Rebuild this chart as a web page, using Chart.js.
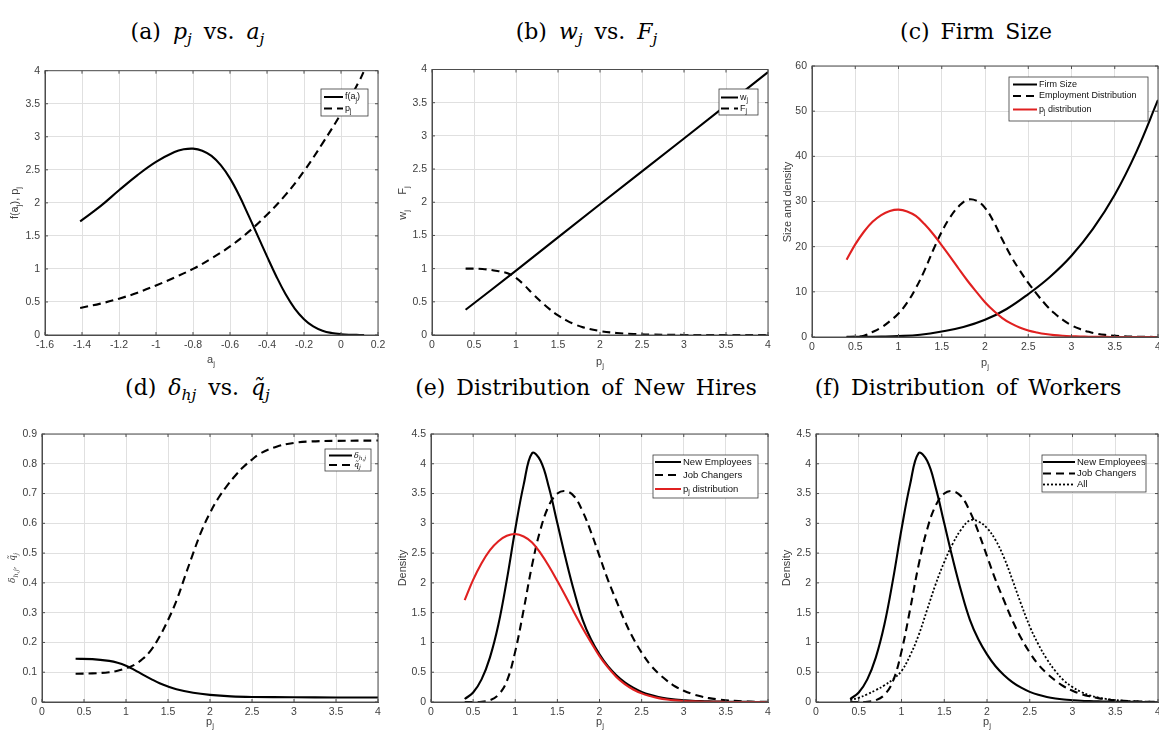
<!DOCTYPE html>
<html>
<head>
<meta charset="utf-8">
<title>Model figures</title>
<script src="https://cdn.jsdelivr.net/npm/chart.js@4.4.1/dist/chart.umd.min.js"></script>
<style>
  html, body { margin: 0; padding: 0; background: #fff; }
  #page { position: relative; width: 1159px; height: 737px; overflow: hidden; }
  canvas { position: absolute; }
  .cap { position: absolute; font-family: 'DejaVu Serif', serif; font-size: 22px; line-height: 22px; word-spacing: 4px; color: #000; white-space: nowrap; transform: translateX(-50%); }
  .cap i { margin: 0 1px; }
  .cap sub { font-size: 70%; vertical-align: -0.3em; line-height: 0; }
</style>
</head>
<body>
<div id="page">
  <div class="cap" style="left:198px;top:21px">(a) <i>p<sub>j</sub></i> vs. <i>a<sub>j</sub></i></div>
  <div class="cap" style="left:587px;top:21px">(b) <i>w<sub>j</sub></i> vs. <i>F<sub>j</sub></i></div>
  <div class="cap" style="left:976px;top:21px">(c) Firm Size</div>
  <div class="cap" style="left:198px;top:377px">(d) <i>δ<sub>hj</sub></i> vs. <i>q̃<sub>j</sub></i></div>
  <div class="cap" style="left:586px;top:377px">(e) Distribution of New Hires</div>
  <div class="cap" style="left:968px;top:377px">(f) Distribution of Workers</div>
  <canvas id="pa"></canvas>
  <canvas id="pb"></canvas>
  <canvas id="pc"></canvas>
  <canvas id="pd"></canvas>
  <canvas id="pe"></canvas>
  <canvas id="pf"></canvas>
</div>
<script>
// ---------- data ----------
// tick values
const aTickX = [-1.6, -1.4, -1.2, -1, -0.8, -0.6, -0.4, -0.2, 0, 0.2];
const tick4 = [0, 0.5, 1, 1.5, 2, 2.5, 3, 3.5, 4];
const cTickY = [0, 10, 20, 30, 40, 50, 60];
const dTickY = [0, 0.1, 0.2, 0.3, 0.4, 0.5, 0.6, 0.7, 0.8, 0.9];
const eTickY = [0, 0.5, 1, 1.5, 2, 2.5, 3, 3.5, 4, 4.5];

// (a) f(a_j) and p_j against a_j
const faX = [-1.41, -1.3, -1.2, -1.1, -1.0, -0.9, -0.85, -0.8, -0.75, -0.7, -0.65, -0.6, -0.55, -0.5, -0.45, -0.4, -0.35, -0.3, -0.25, -0.2, -0.15, -0.1, -0.05, 0, 0.05, 0.1, 0.125];
const faY = [1.72, 1.95, 2.19, 2.42, 2.62, 2.77, 2.81, 2.82, 2.79, 2.71, 2.57, 2.37, 2.11, 1.81, 1.50, 1.19, 0.89, 0.62, 0.40, 0.24, 0.13, 0.065, 0.03, 0.012, 0.004, 0.001, 0];
const paX = [-1.41, -1.3, -1.2, -1.1, -1.0, -0.9, -0.8, -0.7, -0.6, -0.5, -0.4, -0.3, -0.2, -0.1, 0, 0.1, 0.125];
const paY = [0.41, 0.475, 0.55, 0.64, 0.75, 0.87, 1.0, 1.16, 1.34, 1.56, 1.82, 2.12, 2.48, 2.9, 3.35, 3.85, 4.0];

// (b) w_j and F_j against p_j
const wX = [0.4, 1, 2, 3, 4];
const wY = [0.38, 0.97, 1.97, 2.96, 3.96];
const fX = [0.4, 0.6, 0.8, 0.9, 1.0, 1.1, 1.2, 1.3, 1.4, 1.5, 1.6, 1.7, 1.8, 2.0, 2.2, 2.4, 2.6, 3.0, 3.5, 4.0];
const fY = [1.0, 0.995, 0.96, 0.93, 0.86, 0.75, 0.62, 0.5, 0.39, 0.295, 0.22, 0.16, 0.115, 0.06, 0.03, 0.015, 0.006, 0.001, 0, 0];

// common p_j grid for the density curves
const pj = [0.4, 0.5, 0.6, 0.7, 0.8, 0.9, 1.0, 1.1, 1.2, 1.3, 1.4, 1.5, 1.6, 1.7, 1.8, 1.9, 2.0, 2.1, 2.2, 2.3, 2.4, 2.5, 2.6, 2.7, 2.8, 2.9, 3.0, 3.1, 3.2, 3.3, 3.4, 3.5, 3.6, 3.7, 3.8, 3.9, 4.0];

// (c) firm size, employment distribution, p_j distribution
const sizeX = [0.4, 0.6, 0.8, 1.0, 1.25, 1.5, 1.75, 2.0, 2.25, 2.5, 2.75, 3.0, 3.25, 3.5, 3.75, 4.0];
const sizeY = [0.02, 0.05, 0.1, 0.2, 0.5, 1.2, 2.2, 3.8, 6.2, 9.5, 13.3, 18, 24, 31.5, 41, 52.5];
const empY = [0, 0.05, 0.3, 1.1, 2.1, 3.5, 5.2, 7.6, 10.8, 14.7, 19.2, 23.3, 26.6, 29.0, 30.4, 30.2, 28.6, 25.5, 21.6, 17.9, 14.8, 12.0, 9.5, 7.2, 5.3, 3.8, 2.6, 1.75, 1.15, 0.72, 0.45, 0.27, 0.15, 0.08, 0.04, 0.02, 0.01];
const pdistC = [17.1, 20.5, 23.3, 25.5, 27.0, 27.9, 28.2, 27.8, 26.8, 25.0, 22.8, 20.3, 17.7, 15.0, 12.4, 10.0, 7.7, 5.8, 4.2, 3.0, 2.1, 1.45, 1.0, 0.65, 0.42, 0.27, 0.17, 0.1, 0.06, 0.035, 0.02, 0.01, 0.005, 0.003, 0.001, 0, 0];

// (d) delta_hj and q~_j
const dlX = [0.4, 0.6, 0.8, 0.9, 1.0, 1.1, 1.2, 1.3, 1.4, 1.5, 1.6, 1.8, 2.0, 2.25, 2.5, 3.0, 3.5, 4.0];
const dlY = [0.145, 0.144, 0.138, 0.132, 0.122, 0.108, 0.092, 0.077, 0.063, 0.052, 0.043, 0.031, 0.024, 0.019, 0.017, 0.016, 0.015, 0.015];
const qX = [0.4, 0.6, 0.8, 0.9, 1.0, 1.1, 1.2, 1.3, 1.4, 1.5, 1.6, 1.7, 1.8, 1.9, 2.0, 2.1, 2.2, 2.3, 2.4, 2.5, 2.6, 2.8, 3.0, 3.2, 3.5, 4.0];
const qY = [0.095, 0.096, 0.1, 0.105, 0.113, 0.125, 0.145, 0.175, 0.22, 0.275, 0.34, 0.42, 0.5, 0.575, 0.635, 0.685, 0.725, 0.76, 0.79, 0.814, 0.835, 0.858, 0.87, 0.875, 0.877, 0.878];

// (e), (f) densities on the pj grid
const newEmpY = [0.05, 0.16, 0.38, 0.75, 1.3, 2.05, 2.9, 3.65, 4.18, 4.05, 3.6, 3.0, 2.4, 1.85, 1.38, 1.05, 0.8, 0.6, 0.45, 0.33, 0.24, 0.17, 0.12, 0.085, 0.06, 0.042, 0.03, 0.02, 0.014, 0.01, 0.007, 0.005, 0.003, 0.002, 0.001, 0, 0];
const jobChY = [0, 0, 0.005, 0.03, 0.12, 0.35, 0.85, 1.55, 2.3, 2.9, 3.3, 3.5, 3.54, 3.45, 3.2, 2.85, 2.45, 2.05, 1.7, 1.36, 1.07, 0.83, 0.63, 0.48, 0.36, 0.26, 0.19, 0.135, 0.095, 0.065, 0.045, 0.03, 0.02, 0.012, 0.007, 0.004, 0.002];
const pdistE = [1.71, 2.05, 2.33, 2.55, 2.70, 2.79, 2.82, 2.78, 2.68, 2.50, 2.28, 2.03, 1.77, 1.50, 1.24, 1.00, 0.77, 0.58, 0.42, 0.30, 0.21, 0.145, 0.10, 0.065, 0.042, 0.027, 0.017, 0.01, 0.006, 0.0035, 0.002, 0.001, 0.0005, 0, 0, 0, 0];
const allY = [0.03, 0.07, 0.13, 0.2, 0.28, 0.38, 0.52, 0.78, 1.12, 1.55, 1.98, 2.35, 2.66, 2.9, 3.05, 3.03, 2.92, 2.72, 2.42, 2.04, 1.64, 1.27, 0.97, 0.72, 0.52, 0.36, 0.25, 0.17, 0.11, 0.075, 0.05, 0.032, 0.02, 0.012, 0.007, 0.004, 0.002];

// ---------- drawing ----------
const SANS = "'Liberation Sans', Arial, Helvetica, sans-serif";
const SERIF = "'DejaVu Serif', serif";
const RED = '#e02020';
const DASH = [8, 5];
const DOT = [2, 2];

function line(xs, ys, color, dash, order) {
  return {
    data: xs.map((x, i) => ({ x: x, y: ys[i] })),
    borderColor: color || '#000',
    borderDash: dash || [],
    borderWidth: dash === DOT ? 1.8 : 2.1,
    showLine: true,
    pointRadius: 0,
    fill: false,
    tension: 0.4,
    order: order || 0
  };
}

// segs: [text, kind]; kind contains 's' for subscript, 'i' for italic
function drawRich(ctx, segs, x, y, size, family, align) {
  let w = 0;
  const parts = segs.map(function (s) {
    const sub = s[1].indexOf('s') >= 0, it = s[1].indexOf('i') >= 0;
    const sz = sub ? size * 0.72 : size;
    const f = (it ? 'italic ' : '') + sz + 'px ' + family;
    ctx.font = f;
    const pw = ctx.measureText(s[0]).width;
    w += pw;
    return { t: s[0], f: f, pw: pw, dy: sub ? size * 0.32 : 0 };
  });
  let px = align === 'center' ? x - w / 2 : x;
  ctx.textAlign = 'left';
  ctx.textBaseline = 'middle';
  parts.forEach(function (p) { ctx.font = p.f; ctx.fillText(p.t, px, y + p.dy); px += p.pw; });
}

function decoPlugin(box, d, xTicks, yTicks) {
  return {
    id: 'deco',
    afterDraw(chart) {
      const ctx = chart.ctx, a = chart.chartArea;
      const xs = chart.scales.x, ys = chart.scales.y;
      ctx.save();
      // axes box with inward ticks
      ctx.strokeStyle = '#4d4d4d';
      ctx.lineWidth = 1;
      ctx.strokeRect(a.left, a.top, a.right - a.left, a.bottom - a.top);
      ctx.beginPath();
      xTicks.forEach(function (v) {
        const px = xs.getPixelForValue(v);
        ctx.moveTo(px, a.bottom); ctx.lineTo(px, a.bottom - 3);
        ctx.moveTo(px, a.top); ctx.lineTo(px, a.top + 3);
      });
      yTicks.forEach(function (v) {
        const py = ys.getPixelForValue(v);
        ctx.moveTo(a.left, py); ctx.lineTo(a.left + 3, py);
        ctx.moveTo(a.right, py); ctx.lineTo(a.right - 3, py);
      });
      ctx.stroke();

      // axis titles
      ctx.fillStyle = '#404040';
      drawRich(ctx, d.xTitle, d.xt[0] - box.x, d.xt[1] - box.y, 11, SANS, 'center');
      ctx.save();
      ctx.translate(d.yt[0] - box.x, d.yt[1] - box.y);
      ctx.rotate(-Math.PI / 2);
      drawRich(ctx, d.yTitle, 0, 0, d.ySize || 11, d.yFont || SANS, 'center');
      ctx.restore();

      // legend
      const L = d.legend, lx = L.x - box.x, ly = L.y - box.y;
      ctx.fillStyle = '#fff';
      ctx.fillRect(lx, ly, L.w, L.h);
      ctx.strokeStyle = '#3a3a3a';
      ctx.lineWidth = 0.8;
      ctx.strokeRect(lx, ly, L.w, L.h);
      L.items.forEach(function (it) {
        const y = it.y - box.y;
        ctx.strokeStyle = it.color || '#000';
        ctx.lineWidth = it.dash === DOT ? 1.8 : 2;
        ctx.setLineDash(it.dash || []);
        ctx.beginPath();
        ctx.moveTo(lx + L.l0, y); ctx.lineTo(lx + L.l1, y);
        ctx.stroke();
        ctx.setLineDash([]);
        ctx.fillStyle = '#111';
        drawRich(ctx, it.segs, lx + L.tx, y, L.size, L.font || SANS, 'left');
      });
      ctx.restore();
    }
  };
}

function axis(ticks, dir, size) {
  return {
    type: 'linear',
    min: ticks[0],
    max: ticks[ticks.length - 1],
    afterBuildTicks: function (s) { s.ticks = ticks.map(function (v) { return { value: v }; }); },
    afterFit: function (s) {
      if (dir === 'x') s.height = size; else s.width = size;
      s.paddingLeft = s.paddingRight = s.paddingTop = s.paddingBottom = 0;
    },
    grid: { color: '#e0e0e0', lineWidth: 1, drawTicks: false },
    border: { display: true, color: '#4d4d4d', width: 1 },
    ticks: {
      color: '#404040',
      font: { family: SANS, size: 10.5 },
      padding: dir === 'x' ? 4 : 5,
      maxRotation: 0,
      autoSkip: false,
      callback: function (v) { return String(v); }
    }
  };
}

function panel(id, box, area, xTicks, yTicks, datasets, deco) {
  const cv = document.getElementById(id);
  cv.width = box.w; cv.height = box.h;
  cv.style.left = box.x + 'px'; cv.style.top = box.y + 'px';
  new Chart(cv, {
    type: 'scatter',
    data: { datasets: datasets },
    options: {
      responsive: false,
      animation: false,
      events: [],
      layout: { padding: { left: 0, top: area.t - box.y, right: box.x + box.w - area.r, bottom: 0 } },
      plugins: { legend: { display: false }, tooltip: { enabled: false } },
      scales: {
        x: axis(xTicks, 'x', box.y + box.h - area.b),
        y: axis(yTicks, 'y', area.l - box.x)
      }
    },
    plugins: [decoPlugin(box, deco, xTicks, yTicks)]
  });
}

const pSub = [['p', ''], ['j', 's']];

// (a)
panel('pa', { x: 0, y: 55, w: 390, h: 325 }, { l: 45, t: 70.7, r: 378, b: 335 }, aTickX, tick4,
  [line(faX, faY), line(paX, paY, '#000', DASH)],
  {
    xTitle: [['a', ''], ['j', 's']], xt: [211, 360],
    yTitle: [['f(a', ''], ['j', 's'], ['), p', ''], ['j', 's']], yt: [15, 203],
    legend: { x: 321, y: 89, w: 47, h: 27, l0: 3, l1: 22, tx: 24, size: 9,
      items: [{ segs: [['f(a', ''], ['j', 's'], [')', '']], y: 97 }, { segs: pSub, dash: DASH, y: 108.5 }] }
  });

// (b)
panel('pb', { x: 390, y: 55, w: 390, h: 325 }, { l: 432, t: 69.5, r: 768, b: 335 }, tick4, tick4,
  [line(wX, wY), line(fX, fY, '#000', DASH)],
  {
    xTitle: pSub, xt: [600, 362],
    yTitle: [['w', ''], ['j', 's'], ['     F', ''], ['j', 's']], yt: [403, 203],
    legend: { x: 719, y: 89, w: 39, h: 26, l0: 2, l1: 19, tx: 21, size: 9,
      items: [{ segs: [['w', ''], ['j', 's']], y: 97.5 }, { segs: [['F', ''], ['j', 's']], dash: DASH, y: 108.5 }] }
  });

// (c)
panel('pc', { x: 775, y: 55, w: 384, h: 325 }, { l: 812, t: 66, r: 1158, b: 337 }, tick4, cTickY,
  [line(sizeX, sizeY, '#000', null, 3), line(pj, empY, '#000', DASH, 2), line(pj, pdistC, RED, null, 1)],
  {
    xTitle: pSub, xt: [985, 363],
    yTitle: [['Size and density', '']], yt: [788, 202],
    legend: { x: 1009, y: 77, w: 139, h: 44, l0: 4, l1: 28, tx: 30, size: 9,
      items: [
        { segs: [['Firm Size', '']], y: 84.5 },
        { segs: [['Employment Distribution', '']], dash: DASH, y: 96 },
        { segs: [['p', ''], ['j', 's'], [' distribution', '']], color: RED, y: 109.5 }
      ] }
  });

// (d)
panel('pd', { x: 0, y: 420, w: 390, h: 317 }, { l: 42, t: 434, r: 378, b: 702 }, tick4, dTickY,
  [line(dlX, dlY), line(qX, qY, '#000', DASH)],
  {
    xTitle: pSub, xt: [210, 722],
    yTitle: [['δ', 'i'], ['h,j', 'is'], [',  ', ''], ['q̃', 'i'], ['j', 'is']], yt: [13, 568], yFont: SERIF, ySize: 9,
    legend: { x: 325, y: 449, w: 46, h: 22, l0: 4, l1: 27, tx: 29, size: 8, font: SERIF,
      items: [
        { segs: [['δ', 'i'], ['h,j', 'is']], y: 455.5 },
        { segs: [['q̃', 'i'], ['j', 'is']], dash: DASH, y: 465 }
      ] }
  });

// (e)
panel('pe', { x: 390, y: 420, w: 390, h: 317 }, { l: 431, t: 434, r: 768, b: 702 }, tick4, eTickY,
  [line(pj, newEmpY, '#000', null, 3), line(pj, jobChY, '#000', DASH, 2), line(pj, pdistE, RED, null, 1)],
  {
    xTitle: pSub, xt: [600, 722],
    yTitle: [['Density', '']], yt: [403, 568],
    legend: { x: 653, y: 455, w: 105, h: 43, l0: 2, l1: 28, tx: 30, size: 9.5,
      items: [
        { segs: [['New Employees', '']], y: 462 },
        { segs: [['Job Changers', '']], dash: DASH, y: 475 },
        { segs: [['p', ''], ['j', 's'], [' distribution', '']], color: RED, y: 489 }
      ] }
  });

// (f)
panel('pf', { x: 775, y: 420, w: 384, h: 317 }, { l: 816, t: 434, r: 1158, b: 702 }, tick4, eTickY,
  [line(pj, newEmpY, '#000', null, 3), line(pj, jobChY, '#000', DASH, 2), line(pj, allY, '#000', DOT, 1)],
  {
    xTitle: pSub, xt: [987, 722],
    yTitle: [['Density', '']], yt: [787, 568],
    legend: { x: 1042, y: 455, w: 104, h: 37, l0: 1, l1: 33, tx: 35, size: 9.5,
      items: [
        { segs: [['New Employees', '']], y: 462 },
        { segs: [['Job Changers', '']], dash: DASH, y: 473.5 },
        { segs: [['All', '']], dash: DOT, y: 484.5 }
      ] }
  });
</script>
</body>
</html>
